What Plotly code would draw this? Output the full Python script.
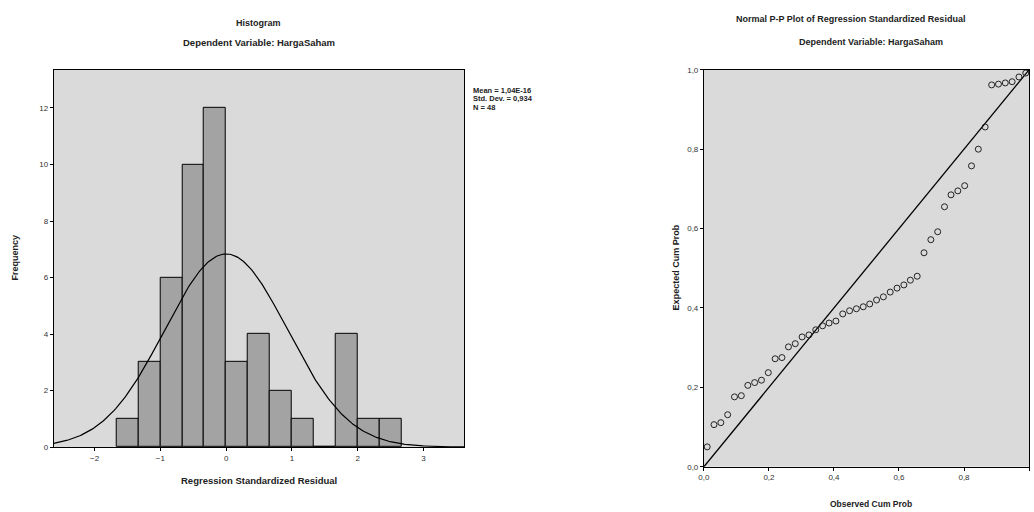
import numpy as np
import plotly.graph_objects as go

# ---------------- data ----------------
bin_edges = [-5/3, -4/3, -1, -2/3, -1/3, 0, 1/3, 2/3, 1, 4/3, 5/3, 2, 7/3, 8/3]
freq = [1, 3, 6, 10, 12, 3, 4, 2, 1, 0, 4, 1, 1]
mean_res = 0.0
sd_res = 0.934
n_obs = 48
legend_lines = ["Mean = 1,04E-16", "Std. Dev. = 0,934", "N = 48"]
hist_xticks = [-2, -1, 0, 1, 2, 3]
hist_yticks = [0, 2, 4, 6, 8, 10, 12]

observed = [0.010, 0.031, 0.052, 0.073, 0.094, 0.115, 0.135, 0.156, 0.177, 0.198,
            0.219, 0.240, 0.260, 0.281, 0.302, 0.323, 0.344, 0.365, 0.385, 0.406,
            0.427, 0.448, 0.469, 0.490, 0.510, 0.531, 0.552, 0.573, 0.594, 0.615,
            0.635, 0.656, 0.677, 0.698, 0.719, 0.740, 0.760, 0.781, 0.802, 0.823,
            0.844, 0.865, 0.885, 0.906, 0.927, 0.948, 0.969, 0.990]
expected = [0.050, 0.106, 0.111, 0.131, 0.176, 0.179, 0.205, 0.212, 0.218, 0.237,
            0.272, 0.275, 0.302, 0.310, 0.327, 0.332, 0.345, 0.355, 0.362, 0.367,
            0.385, 0.393, 0.398, 0.403, 0.410, 0.420, 0.428, 0.440, 0.450, 0.458,
            0.470, 0.480, 0.539, 0.572, 0.592, 0.655, 0.685, 0.695, 0.708, 0.758,
            0.800, 0.856, 0.962, 0.964, 0.967, 0.970, 0.982, 0.992]
pp_ticks = [0.0, 0.2, 0.4, 0.6, 0.8, 1.0]
pp_ticktext = ["0,0", "0,2", "0,4", "0,6", "0,8", "1,0"]

# ---------------- figure ----------------
W, H = 1034, 512
def px(x):
    return x / W
def py(y):
    return 1 - y / H

FONT = "Liberation Sans"
fig = go.Figure()

edges = np.array(bin_edges)
centers = (edges[:-1] + edges[1:]) / 2
widths = edges[1:] - edges[:-1]
fig.add_trace(go.Bar(x=centers, y=freq, width=widths,
                     marker=dict(color="#a3a3a3", line=dict(color="black", width=1)),
                     xaxis="x", yaxis="y", showlegend=False))

xr = [-2.62, 3.62]
xs = np.linspace(xr[0], xr[1], 300)
binw = widths[0]
ys = n_obs * binw / (sd_res * np.sqrt(2 * np.pi)) * np.exp(-0.5 * ((xs - mean_res) / sd_res) ** 2)
fig.add_trace(go.Scatter(x=xs, y=ys, mode="lines", line=dict(color="black", width=1.2),
                         xaxis="x", yaxis="y", showlegend=False))

fig.add_trace(go.Scatter(x=[0, 1], y=[0, 1], mode="lines", line=dict(color="black", width=1.3),
                         xaxis="x2", yaxis="y2", showlegend=False))
fig.add_trace(go.Scatter(x=observed, y=expected, mode="markers",
                         marker=dict(symbol="circle-open", size=6, color="#222222",
                                     line=dict(width=1)),
                         xaxis="x2", yaxis="y2", showlegend=False))

axis_common = dict(showgrid=False, zeroline=False, showline=True, linecolor="black",
                   linewidth=1, mirror=True, ticks="outside", ticklen=3,
                   tickcolor="black", tickfont=dict(family=FONT, size=8, color="#333"))

fig.update_layout(
    width=W, height=H, margin=dict(l=0, r=0, t=0, b=0),
    paper_bgcolor="white", plot_bgcolor="#dadada",
    xaxis=dict(domain=[px(48), px(461)], range=xr, tickvals=hist_xticks,
               anchor="y", **axis_common),
    yaxis=dict(domain=[py(451), py(67)], range=[0, 13.35], tickvals=hist_yticks,
               anchor="x", **axis_common),
    xaxis2=dict(domain=[px(702), px(1029)], range=[0, 1], tickvals=pp_ticks,
                ticktext=pp_ticktext, anchor="y2", **axis_common),
    yaxis2=dict(domain=[py(471), py(67)], range=[0, 1], tickvals=pp_ticks,
                ticktext=pp_ticktext, anchor="x2", **axis_common),
    bargap=0,
)

def txt(x, y, s, size=9, bold=True, angle=0, anchor="center"):
    fig.add_annotation(x=px(x), y=py(y), xref="paper", yref="paper", text=(f"<b>{s}</b>" if bold else s),
                       showarrow=False, textangle=angle, xanchor=anchor, yanchor="middle",
                       font=dict(family=FONT, size=size, color="#222"))

txt(254, 19, "Histogram", 9)
txt(254, 39, "Dependent Variable: HargaSaham", 9.5)
txt(254, 485, "Regression Standardized Residual", 9.5)
txt(10, 258, "Frequency", 9, angle=-90)
for i, line in enumerate(legend_lines):
    txt(468, 88 + i * 8.5, line, 7.5, bold=True, anchor="left")

txt(849, 15, "Normal P-P Plot of Regression Standardized Residual", 9)
txt(870, 39, "Dependent Variable: HargaSaham", 9)
txt(870, 509, "Observed Cum Prob", 8.5)
txt(674, 268, "Expected Cum Prob", 9, angle=-90)

fig.write_html("out.html", config={"displayModeBar": False},
               post_script="document.body.style.margin='0';document.body.style.padding='0';document.body.style.overflow='hidden';")
